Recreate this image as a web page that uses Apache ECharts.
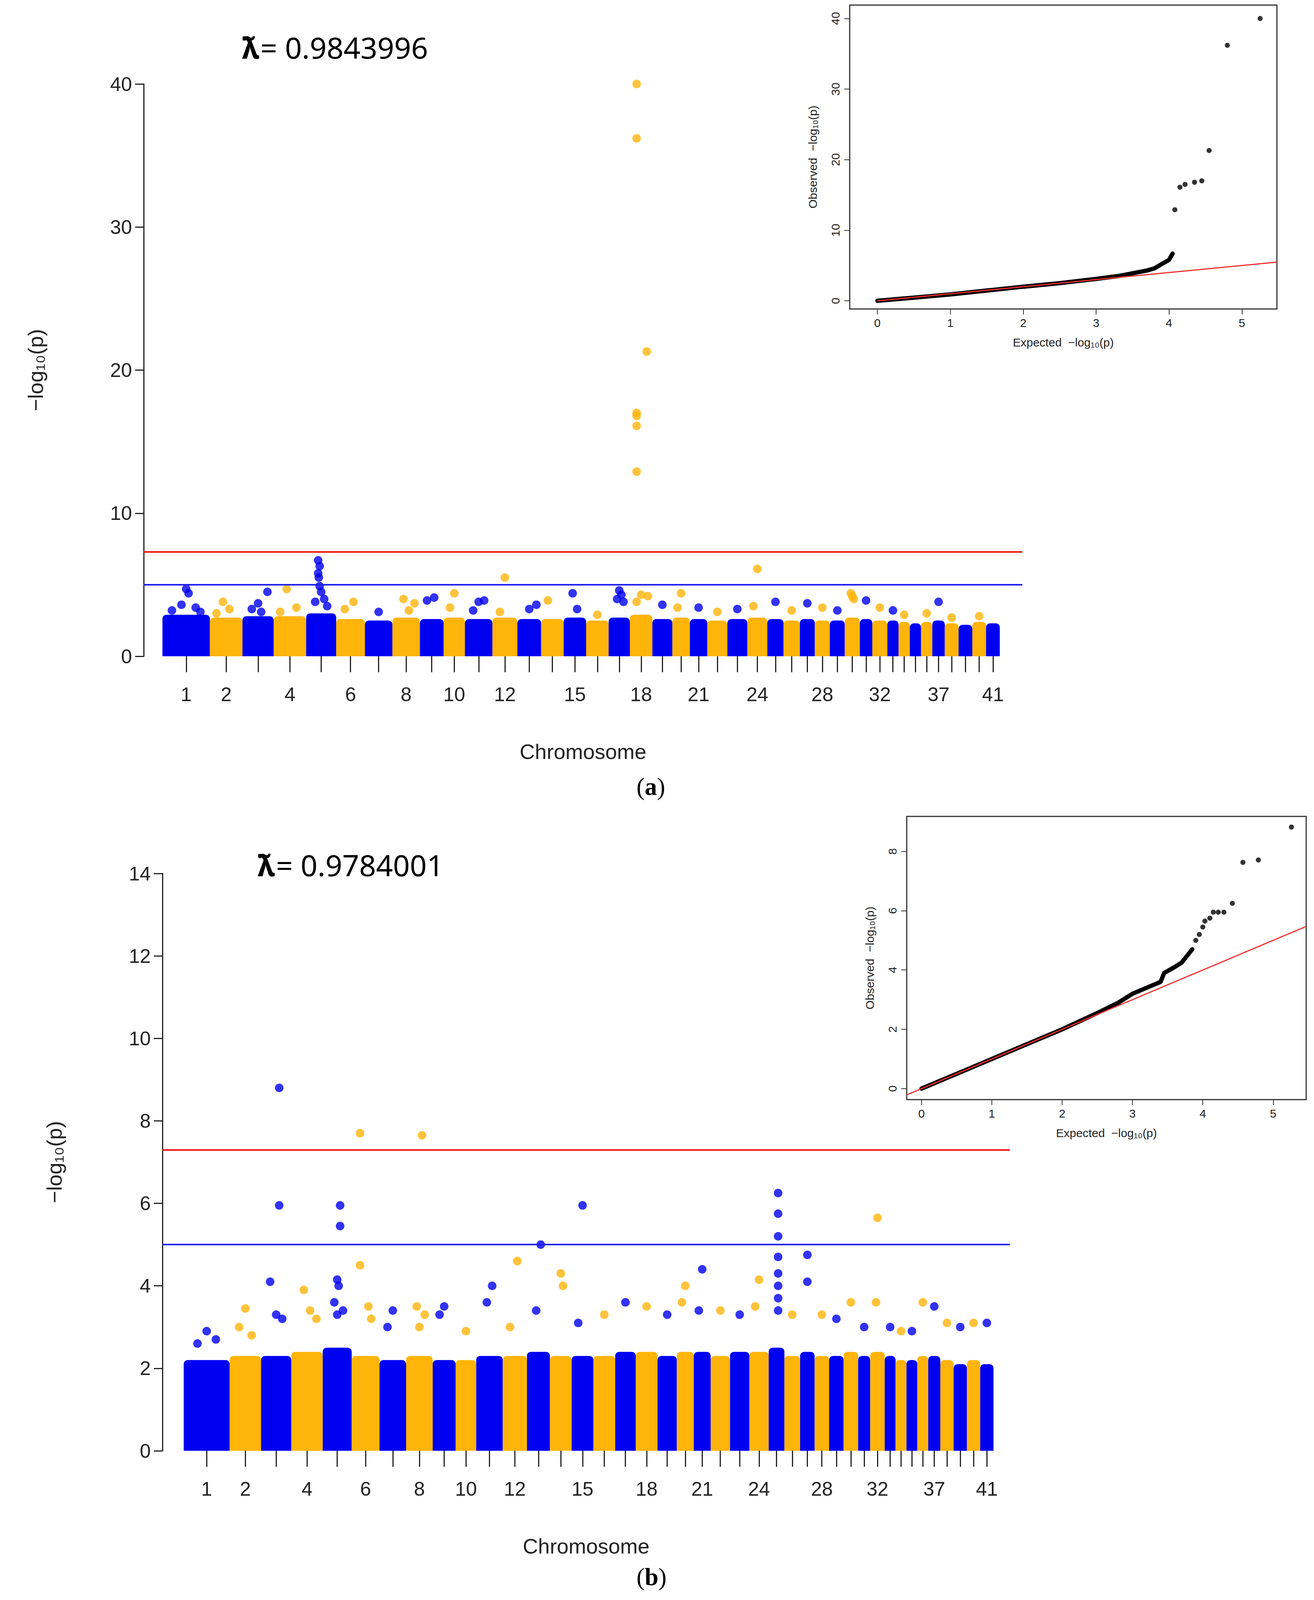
<!DOCTYPE html>
<html>
<head>
<meta charset="utf-8">
<script src="https://cdn.jsdelivr.net/npm/echarts@6/dist/echarts.min.js"></script>
<style>html,body{margin:0;background:#fff;overflow:hidden}#c{width:3365px;height:100vh}</style>
</head>
<body>
<div id="c"></div>
<script>
// chromosome widths (relative genome length units), 41 chromosomes
var chromWidths = [38,26,25,26,24,23,22,22,19,17,22,20,19,18,18,18,17,18,16,14,14,16,16,16,13,13,12,12,12,12,10,12,9,9,9,9,10,11,11,11,11];
var labelChroms = [1,2,4,6,8,10,12,15,18,21,24,28,32,37,41];

// height of the dense band of points per chromosome
var massA = [2.9,2.7,2.8,2.8,3.0,2.6,2.5,2.7,2.6,2.7,2.6,2.7,2.6,2.6,2.7,2.5,2.7,2.9,2.6,2.7,2.6,2.5,2.6,2.7,2.6,2.5,2.6,2.5,2.5,2.7,2.6,2.5,2.5,2.4,2.3,2.4,2.5,2.3,2.2,2.4,2.3];
var massB = [2.2,2.3,2.3,2.4,2.5,2.3,2.2,2.3,2.2,2.2,2.3,2.3,2.4,2.3,2.3,2.3,2.4,2.4,2.3,2.4,2.4,2.3,2.4,2.4,2.5,2.3,2.4,2.3,2.3,2.4,2.3,2.4,2.3,2.2,2.2,2.3,2.3,2.2,2.1,2.2,2.1];

// notable points: [chromosome, position within chromosome 0..1, -log10 p]
var hitsA = [
  [1,0.5,4.7],[1,0.55,4.4],[1,0.4,3.6],[1,0.2,3.2],[1,0.7,3.4],[1,0.8,3.1],
  [2,0.4,3.8],[2,0.6,3.3],[2,0.2,3.0],[3,0.5,3.7],[3,0.8,4.5],[3,0.3,3.3],[3,0.6,3.1],
  [4,0.4,4.7],[4,0.7,3.4],[4,0.2,3.1],
  [5,0.4,6.7],[5,0.45,6.3],[5,0.4,5.8],[5,0.42,5.5],[5,0.45,4.9],[5,0.5,4.5],[5,0.6,4.0],[5,0.3,3.8],[5,0.7,3.5],
  [6,0.6,3.8],[6,0.3,3.3],[7,0.5,3.1],[8,0.4,4.0],[8,0.8,3.7],[8,0.6,3.2],[9,0.3,3.9],[9,0.6,4.1],
  [10,0.5,4.4],[10,0.3,3.4],[11,0.5,3.8],[11,0.7,3.9],[11,0.3,3.2],[12,0.5,5.5],[12,0.3,3.1],
  [13,0.5,3.3],[13,0.8,3.6],[14,0.3,3.9],[15,0.4,4.4],[15,0.6,3.3],[16,0.5,2.9],
  [17,0.5,4.6],[17,0.6,4.3],[17,0.4,4.0],[17,0.7,3.8],
  [18,0.3,40],[18,0.3,36.2],[18,0.3,17.0],[18,0.3,16.8],[18,0.3,16.1],[18,0.3,12.9],[18,0.75,21.3],[18,0.5,4.3],[18,0.8,4.2],[18,0.3,3.8],
  [19,0.5,3.6],[20,0.5,4.4],[20,0.3,3.4],[21,0.5,3.4],[22,0.5,3.1],[23,0.5,3.3],[24,0.5,6.1],[24,0.3,3.5],
  [25,0.5,3.8],[26,0.5,3.2],[27,0.5,3.7],[28,0.5,3.4],[29,0.5,3.2],
  [30,0.4,4.4],[30,0.5,4.2],[30,0.6,4.0],[31,0.5,3.9],[32,0.5,3.4],[33,0.5,3.2],[34,0.5,2.9],
  [36,0.5,3.0],[37,0.5,3.8],[38,0.5,2.7],[40,0.5,2.8]
];
var hitsB = [
  [1,0.5,2.9],[1,0.7,2.7],[1,0.3,2.6],[2,0.5,3.45],[2,0.3,3.0],[2,0.7,2.8],
  [3,0.6,8.8],[3,0.6,5.95],[3,0.3,4.1],[3,0.5,3.3],[3,0.7,3.2],[4,0.4,3.9],[4,0.6,3.4],[4,0.8,3.2],
  [5,0.6,5.95],[5,0.6,5.45],[5,0.5,4.15],[5,0.55,4.0],[5,0.4,3.6],[5,0.7,3.4],[5,0.5,3.3],
  [6,0.3,7.7],[6,0.3,4.5],[6,0.6,3.5],[6,0.7,3.2],[7,0.5,3.4],[7,0.3,3.0],
  [8,0.6,7.65],[8,0.4,3.5],[8,0.7,3.3],[8,0.5,3.0],[9,0.5,3.5],[9,0.3,3.3],[10,0.5,2.9],
  [11,0.6,4.0],[11,0.4,3.6],[12,0.6,4.6],[12,0.3,3.0],[13,0.6,5.0],[13,0.4,3.4],
  [14,0.5,4.3],[14,0.6,4.0],[15,0.5,5.95],[15,0.3,3.1],[16,0.5,3.3],[17,0.5,3.6],
  [18,0.5,3.5],[19,0.5,3.3],[20,0.5,4.0],[20,0.3,3.6],[21,0.5,4.4],[21,0.3,3.4],
  [22,0.5,3.4],[23,0.5,3.3],[24,0.5,4.15],[24,0.3,3.5],
  [25,0.6,6.25],[25,0.6,5.75],[25,0.6,5.2],[25,0.6,4.7],[25,0.6,4.3],[25,0.6,4.0],[25,0.6,3.7],[25,0.6,3.4],
  [26,0.5,3.3],[27,0.5,4.75],[27,0.5,4.1],[28,0.5,3.3],[29,0.5,3.2],[30,0.5,3.6],[31,0.5,3.0],
  [32,0.5,5.65],[32,0.4,3.6],[33,0.5,3.0],[34,0.5,2.9],[35,0.5,2.9],[36,0.5,3.6],[37,0.5,3.5],
  [38,0.5,3.1],[39,0.5,3.0],[40,0.5,3.1],[41,0.5,3.1]
];

// QQ plots: expected vs observed
var qqLineA = [[0,0],[0.5,0.45],[1,0.9],[1.5,1.45],[2,2.0],[2.5,2.5],[3,3.1],[3.3,3.5],[3.5,3.9],[3.7,4.3],[3.8,4.6],[3.9,5.2],[4.0,5.8],[4.05,6.7]];
var qqPtsA = [[4.08,12.9],[4.15,16.1],[4.22,16.5],[4.35,16.8],[4.45,17.0],[4.55,21.3],[4.8,36.2],[5.25,40]];
var qqLineB = [[0,0],[0.5,0.5],[1,1.0],[1.5,1.5],[2,2.0],[2.5,2.55],[2.8,2.9],[3,3.2],[3.2,3.4],[3.4,3.6],[3.45,3.9],[3.6,4.1],[3.7,4.25],[3.85,4.7]];
var qqPtsB = [[3.9,5.0],[3.95,5.2],[4.0,5.45],[4.03,5.65],[4.1,5.75],[4.15,5.95],[4.22,5.95],[4.3,5.95],[4.42,6.25],[4.57,7.63],[4.79,7.71],[5.26,8.82]];

var BLUE = '#0000F0', ORANGE = '#FFB40A';
var starts = [], s = 0;
chromWidths.forEach(function (w) { starts.push(s); s += w; });
var centers = starts.map(function (st, i) { return st + chromWidths[i] / 2; });
var labelPos = labelChroms.map(function (c) { return centers[c - 1]; });

// the window is shorter than the reference; vertical layout is scaled to fit it
var H = window.innerHeight;
function Y(v) { return Math.round(v * H / 5001); }
var K = Math.min(1, H / 5001 * 1.1);

function massData(mass) {
  return mass.map(function (h, i) { return [starts[i], starts[i] + chromWidths[i], h, i]; });
}
function hitData(hits) {
  return hits.map(function (h) { return [starts[h[0] - 1] + chromWidths[h[0] - 1] * h[1], h[2], h[0]]; });
}
function colorOf(c) { return c % 2 === 1 ? BLUE : ORANGE; }

var font = 'Liberation Sans';
var chart = echarts.init(document.getElementById('c'), null, { renderer: 'svg' });

function mainX(gi, min, max) {
  return {
    gridIndex: gi, type: 'value', min: min, max: max,
    axisLine: { show: false, onZero: false }, splitLine: { show: false },
    axisTick: { show: true, customValues: centers, length: Y(50), lineStyle: { color: '#222', width: 3 } },
    axisLabel: {
      customValues: labelPos, margin: Y(88), fontSize: 56 * K, color: '#222', fontFamily: font,
      formatter: function (v) { var i = labelPos.indexOf(v); return i >= 0 ? String(labelChroms[i]) : ''; }
    },
    name: 'Chromosome', nameLocation: 'middle', nameGap: Y(265),
    nameTextStyle: { fontSize: 60 * K, color: '#222', fontFamily: font }
  };
}
function mainY(gi, max, interval) {
  return {
    gridIndex: gi, type: 'value', min: 0, max: max, interval: interval,
    axisLine: { show: true, onZero: false, lineStyle: { color: '#222', width: 3 } },
    axisTick: { show: true, length: 22, lineStyle: { color: '#222', width: 3 } },
    axisLabel: { fontSize: 56 * K, color: '#222', fontFamily: font, margin: 30 },
    splitLine: { show: false },
    name: '\u2212log\u2081\u2080(p)', nameLocation: 'middle', nameGap: 250, nameRotate: 90,
    nameTextStyle: { fontSize: 60 * K, color: '#222', fontFamily: font }
  };
}
function qqX(gi, min, max) {
  return {
    gridIndex: gi, type: 'value', min: min, max: max,
    axisLine: { show: false, onZero: false }, splitLine: { show: false },
    axisTick: { show: true, customValues: [0,1,2,3,4,5], length: 14, lineStyle: { color: '#333', width: 2 } },
    axisLabel: { customValues: [0,1,2,3,4,5], fontSize: 30, color: '#222', fontFamily: font, margin: 20 },
    name: 'Expected  \u2212log\u2081\u2080(p)', nameLocation: 'middle', nameGap: Y(85),
    nameTextStyle: { fontSize: 30, color: '#222', fontFamily: font }
  };
}
function qqY(gi, min, max, ticks) {
  return {
    gridIndex: gi, type: 'value', min: min, max: max,
    axisLine: { show: false, onZero: false }, splitLine: { show: false },
    axisTick: { show: true, customValues: ticks, length: 14, lineStyle: { color: '#333', width: 2 } },
    axisLabel: { customValues: ticks, fontSize: 30, color: '#222', fontFamily: font, rotate: 90, margin: 22 },
    name: 'Observed  \u2212log\u2081\u2080(p)', nameLocation: 'middle', nameGap: 80,
    nameTextStyle: { fontSize: 30, color: '#222', fontFamily: font }
  };
}

function massSeries(xi, mass) {
  return {
    type: 'custom', xAxisIndex: xi, yAxisIndex: xi, data: massData(mass), silent: true,
    encode: { x: [0, 1], y: 2 },
    renderItem: function (params, api) {
      var p0 = api.coord([api.value(0), 0]);
      var p1 = api.coord([api.value(1), api.value(2)]);
      return {
        type: 'rect',
        shape: { x: p0[0], y: p1[1], width: p1[0] - p0[0], height: p0[1] - p1[1], r: [10, 10, 0, 0] },
        style: { fill: colorOf(api.value(3) + 1) }
      };
    }
  };
}
function hitSeries(xi, hits) {
  return {
    type: 'scatter', xAxisIndex: xi, yAxisIndex: xi, data: hitData(hits), symbolSize: 22,
    itemStyle: { color: function (p) { return colorOf(p.data[2]); } },
    markLine: {
      silent: true, symbol: 'none', label: { show: false },
      data: [
        { yAxis: 7.3, lineStyle: { color: '#F01010', width: 4, type: 'solid' } },
        { yAxis: 5, lineStyle: { color: '#2020F0', width: 4, type: 'solid' } }
      ]
    }
  };
}
function qqSeries(xi, line, pts, redMin, redMax) {
  return [
    { type: 'line', xAxisIndex: xi, yAxisIndex: xi, data: line, symbol: 'none', lineStyle: { color: '#000', width: 11, cap: 'round' } },
    { type: 'line', xAxisIndex: xi, yAxisIndex: xi, data: [[redMin, redMin], [redMax, redMax]], symbol: 'none', lineStyle: { color: '#F03030', width: 3 } },
    { type: 'scatter', xAxisIndex: xi, yAxisIndex: xi, data: pts, symbolSize: 13, itemStyle: { color: '#000' } }
  ];
}

var lambdaStyle = {
  l: { fontSize: 84 * K, fontFamily: 'Noto Sans', color: '#111', fontWeight: 'bold' },
  v: { fontSize: 84 * K, fontFamily: 'Noto Sans', color: '#1F3A6B' }
};
var tagStyle = { b: { fontSize: 70 * K, fontWeight: 'bold', fontFamily: 'Liberation Serif', color: '#000' }, n: { fontSize: 70 * K, fontFamily: 'Liberation Serif', color: '#000' } };

chart.setOption({
  animation: false,
  backgroundColor: '#fff',
  grid: [
    { left: 368, top: Y(262), width: 2250, height: Y(1789) },
    { left: 416, top: Y(2730), width: 2170, height: Y(1804) },
    { left: 2176, top: Y(16), width: 1094, height: Y(950), show: true, borderColor: '#333', borderWidth: 3, backgroundColor: 'transparent' },
    { left: 2322, top: Y(2552), width: 1023, height: Y(885), show: true, borderColor: '#333', borderWidth: 3, backgroundColor: 'transparent' }
  ],
  xAxis: [mainX(0, -15, 688), mainX(1, -17.6, 683.5), qqX(2, -0.38, 5.48), qqX(3, -0.21, 5.47)],
  yAxis: [mainY(0, 40, 10), mainY(1, 14, 2), qqY(2, -1.16, 41.9, [0,10,20,30,40]), qqY(3, -0.37, 9.18, [0,2,4,6,8])],
  series: [
    massSeries(0, massA), hitSeries(0, hitsA),
    massSeries(1, massB), hitSeries(1, hitsB)
  ].concat(qqSeries(2, qqLineA, qqPtsA, 0, 5.48)).concat(qqSeries(3, qqLineB, qqPtsB, -0.21, 5.47)),
  graphic: [
    { type: 'text', left: 620, top: Y(100), style: { text: '{l|\u03BB\u0303} {v|= 0.9843996}', rich: lambdaStyle } },
    { type: 'text', left: 660, top: Y(2655), style: { text: '{l|\u03BB\u0303} {v|= 0.9784001}', rich: lambdaStyle } },
    { type: 'text', left: 1630, top: Y(2420), style: { text: '{n|(}{b|a}{n|)}', rich: tagStyle } },
    { type: 'text', left: 1630, top: Y(4890), style: { text: '{n|(}{b|b}{n|)}', rich: tagStyle } }
  ]
});
</script>
</body>
</html>
